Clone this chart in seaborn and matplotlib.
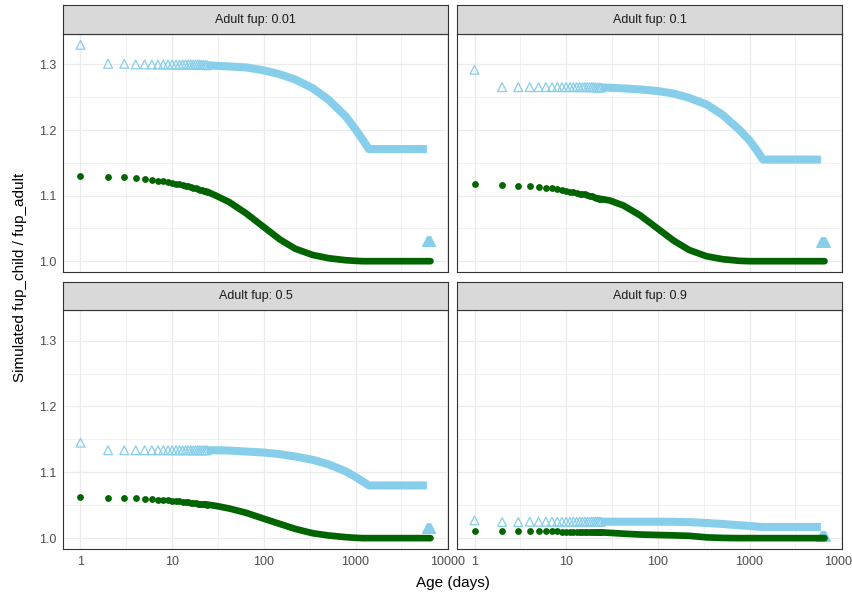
import matplotlib
matplotlib.use("Agg")
import numpy as np
import pandas as pd
import matplotlib.pyplot as plt
import seaborn as sns
from matplotlib.ticker import FixedLocator, NullFormatter

# ---------------- data ----------------
panel_titles = ["Adult fup: 0.01", "Adult fup: 0.1", "Adult fup: 0.5", "Adult fup: 0.9"]

early_age = [1, 2, 3, 4, 5, 6, 7, 8, 9, 10, 11, 12, 13, 14, 15, 16, 17, 18, 19, 20, 21, 22, 23, 24]
band_age = [24, 30, 42, 64, 100, 150, 220, 340, 510, 780, 1000, 1200, 1400, 6000]
final_age = [6000, 6140, 6280, 6420, 6570]

# fup 0.01
blue_early_001 = [1.330, 1.301, 1.301, 1.300, 1.300, 1.300, 1.300, 1.300, 1.300, 1.300, 1.300, 1.300,
                  1.300, 1.300, 1.300, 1.300, 1.300, 1.300, 1.300, 1.300, 1.2995, 1.2995, 1.299, 1.299]
green_early_001 = [1.1305, 1.1285, 1.128, 1.127, 1.1255, 1.124, 1.123, 1.122, 1.1205, 1.119, 1.118, 1.117,
                   1.116, 1.115, 1.114, 1.113, 1.112, 1.111, 1.110, 1.109, 1.108, 1.1075, 1.107, 1.106]
blue_band_001 = [1.299, 1.298, 1.297, 1.2955, 1.291, 1.285, 1.277, 1.264, 1.246, 1.221, 1.201, 1.185, 1.171, 1.171]
green_band_001 = [1.106, 1.100, 1.090, 1.073, 1.052, 1.033, 1.019, 1.0095, 1.0045, 1.0015, 1.0005, 1.000, 1.000, 1.000]
blue_final_001 = [1.031, 1.031, 1.031, 1.031, 1.031]
green_final_001 = [1.000, 1.000, 1.000, 1.000, 1.000]

# fup 0.1
blue_early_01 = [1.292, 1.2655, 1.2655, 1.2655, 1.2655, 1.2655, 1.2655, 1.2655, 1.2655, 1.2655, 1.2655, 1.2655,
                 1.2655, 1.2655, 1.2655, 1.2655, 1.2655, 1.2655, 1.2655, 1.2655, 1.265, 1.265, 1.265, 1.265]
green_early_01 = [1.118, 1.116, 1.115, 1.114, 1.113, 1.112, 1.111, 1.110, 1.109, 1.107, 1.106, 1.105,
                  1.104, 1.103, 1.102, 1.102, 1.101, 1.100, 1.099, 1.098, 1.097, 1.096, 1.0955, 1.095]
blue_band_01 = [1.265, 1.2645, 1.2635, 1.262, 1.2595, 1.2555, 1.249, 1.239, 1.223, 1.200, 1.184, 1.169, 1.155, 1.155]
green_band_01 = [1.095, 1.0925, 1.085, 1.070, 1.0495, 1.031, 1.017, 1.0075, 1.003, 1.0005, 1.000, 1.000, 1.000, 1.000]
blue_final_01 = [1.030, 1.030, 1.030, 1.030, 1.030]
green_final_01 = [1.000, 1.000, 1.000, 1.000, 1.000]

# fup 0.5
blue_early_05 = [1.145, 1.1335, 1.1335, 1.1335, 1.1335, 1.1335, 1.1335, 1.1335, 1.1335, 1.1335, 1.1335, 1.1335,
                 1.1335, 1.1335, 1.1335, 1.1335, 1.1335, 1.1335, 1.1335, 1.1335, 1.1335, 1.1335, 1.1335, 1.1335]
green_early_05 = [1.0625, 1.0605, 1.0605, 1.0603, 1.0595, 1.059, 1.0585, 1.058, 1.0575, 1.057, 1.0565, 1.056,
                  1.0555, 1.055, 1.0545, 1.054, 1.0535, 1.053, 1.0525, 1.052, 1.0518, 1.0515, 1.0512, 1.051]
blue_band_05 = [1.1335, 1.1335, 1.133, 1.1315, 1.130, 1.1275, 1.124, 1.119, 1.112, 1.1015, 1.093, 1.086, 1.080, 1.080]
green_band_05 = [1.051, 1.049, 1.045, 1.0385, 1.0295, 1.0215, 1.014, 1.0075, 1.004, 1.0015, 1.0005, 1.000, 1.000, 1.000]
blue_final_05 = [1.016, 1.016, 1.016, 1.016, 1.016]
green_final_05 = [1.000, 1.000, 1.000, 1.000, 1.000]

# fup 0.9
blue_early_09 = [1.027, 1.0245, 1.0245, 1.025, 1.025, 1.025, 1.025, 1.025, 1.025, 1.025, 1.025, 1.025,
                 1.025, 1.025, 1.025, 1.025, 1.025, 1.025, 1.025, 1.025, 1.025, 1.025, 1.025, 1.025]
green_early_09 = [1.0105, 1.0105, 1.0105, 1.0105, 1.0105, 1.0105, 1.0105, 1.0105, 1.0098, 1.0098, 1.0098, 1.0098,
                  1.0098, 1.0098, 1.0098, 1.0098, 1.009, 1.009, 1.009, 1.009, 1.009, 1.009, 1.009, 1.009]
blue_band_09 = [1.025, 1.025, 1.025, 1.025, 1.025, 1.0248, 1.0243, 1.023, 1.0215, 1.0195, 1.0185, 1.0175, 1.017, 1.017]
green_band_09 = [1.0088, 1.008, 1.0068, 1.0055, 1.0048, 1.0042, 1.0035, 1.0012, 1.0003, 1.000, 1.000, 1.000, 1.000, 1.000]
blue_final_09 = [1.003, 1.003, 1.003, 1.003, 1.003]
green_final_09 = [1.000, 1.000, 1.000, 1.000, 1.000]

series = [
    (blue_early_001, blue_band_001, blue_final_001, green_early_001, green_band_001, green_final_001),
    (blue_early_01, blue_band_01, blue_final_01, green_early_01, green_band_01, green_final_01),
    (blue_early_05, blue_band_05, blue_final_05, green_early_05, green_band_05, green_final_05),
    (blue_early_09, blue_band_09, blue_final_09, green_early_09, green_band_09, green_final_09),
]

x_ticks = [1, 10, 100, 1000, 10000]
x_tick_labels = ["1", "10", "100", "1000", "10000"]
y_ticks = [1.0, 1.1, 1.2, 1.3]
y_tick_labels = ["1.0", "1.1", "1.2", "1.3"]

BLUE = "#87CEEB"
GREEN = "#006400"

# ---------------- style ----------------
sns.set_style("white")
plt.rcParams["font.family"] = ["Liberation Sans", "DejaVu Sans"]

W, H = 853, 599
fig = plt.figure(figsize=(W / 100, H / 100), dpi=100)


def frac(x0, y0, x1, y1):
    return [x0 / W, 1 - y1 / H, (x1 - x0) / W, (y1 - y0) / H]


col_x = [(63, 448), (457, 842)]
row_panel = [(34, 272), (310, 549)]
row_strip = [(5, 34), (282, 310)]

# limits like ggplot (5 % expansion in transformed space)
all_x = early_age + band_age + final_age
lx0, lx1 = np.log10(min(all_x)), np.log10(max(all_x))
dx = (lx1 - lx0) * 0.05
xlim = (10 ** (lx0 - dx), 10 ** (lx1 + dx))
all_y = [v for s in series for part in s for v in part]
ymn, ymx = min(all_y), max(all_y)
dy = (ymx - ymn) * 0.05
ylim = (ymn - dy, ymx + dy)

minor_x = [10 ** (k + 0.5) for k in range(-1, 4)]
minor_y = [1.05, 1.15, 1.25]

for i, (title, s) in enumerate(zip(panel_titles, series)):
    r, c = divmod(i, 2)
    x0, x1 = col_x[c]
    py0, py1 = row_panel[r]
    sy0, sy1 = row_strip[r]
    ax = fig.add_axes(frac(x0, py0, x1, py1))
    ax.set_xscale("log")
    ax.set_facecolor("white")
    ax.set_axisbelow(True)

    b_early, b_band, b_final, g_early, g_band, g_final = s

    # blue (open triangles)
    sns.lineplot(x=band_age, y=b_band, ax=ax, color=BLUE, linewidth=5.8,
                 solid_capstyle="butt", sort=False, estimator=None, zorder=2)
    sns.scatterplot(x=early_age, y=b_early, ax=ax, marker="^", s=40,
                    color=BLUE, facecolor="none", edgecolor=BLUE, linewidth=0.9, zorder=3)
    sns.scatterplot(x=final_age, y=b_final, ax=ax, marker="^", s=48,
                    color=BLUE, edgecolor=BLUE, linewidth=0.9, zorder=3)

    # green (filled circles)
    sns.lineplot(x=band_age[:-1] + final_age, y=g_band[:-1] + g_final, ax=ax, color=GREEN,
                 linewidth=4.8, solid_capstyle="round", sort=False, estimator=None, zorder=4)
    sns.scatterplot(x=early_age, y=g_early, ax=ax, marker="o", s=24,
                    color=GREEN, linewidth=0, zorder=5)

    ax.set_xlim(*xlim)
    ax.set_ylim(*ylim)
    ax.xaxis.set_major_locator(FixedLocator(x_ticks))
    ax.xaxis.set_minor_locator(FixedLocator(minor_x))
    ax.yaxis.set_major_locator(FixedLocator(y_ticks))
    ax.yaxis.set_minor_locator(FixedLocator(minor_y))
    ax.xaxis.set_minor_formatter(NullFormatter())
    ax.yaxis.set_minor_formatter(NullFormatter())
    ax.grid(which="major", color="#EBEBEB", linewidth=0.9)
    ax.grid(which="minor", color="#EBEBEB", linewidth=0.5)
    ax.tick_params(which="minor", length=0)
    ax.tick_params(which="major", direction="out", length=2.75, width=0.6,
                   color="#333333", labelsize=9, labelcolor="#4D4D4D", pad=2.2)
    if r == 1:
        ax.set_xticklabels(x_tick_labels)
    else:
        ax.tick_params(axis="x", length=0, labelbottom=False)
    if c == 0:
        ax.set_yticklabels(y_tick_labels)
    else:
        ax.tick_params(axis="y", length=0, labelleft=False)
    ax.set_xlabel("")
    ax.set_ylabel("")
    for sp in ax.spines.values():
        sp.set_color("#333333")
        sp.set_linewidth(0.8)
        sp.set_visible(True)

    # strip
    sax = fig.add_axes(frac(x0, sy0, x1, sy1))
    sax.set_facecolor("#D9D9D9")
    sax.set_xticks([])
    sax.set_yticks([])
    for sp in sax.spines.values():
        sp.set_color("#333333")
        sp.set_linewidth(0.8)
        sp.set_visible(True)
    sax.text(0.5, 0.5, title, ha="center", va="center", fontsize=9,
             color="#1A1A1A", transform=sax.transAxes)

fig.text((63 + 842) / 2 / W, 1 - 583 / H, "Age (days)", ha="center", va="center",
         fontsize=11, color="black")
fig.text(20 / W, 1 - 277 / H, "Simulated fup_child / fup_adult", ha="center", va="center",
         rotation=90, fontsize=11, color="black")

fig.savefig("out.png", dpi=100)
